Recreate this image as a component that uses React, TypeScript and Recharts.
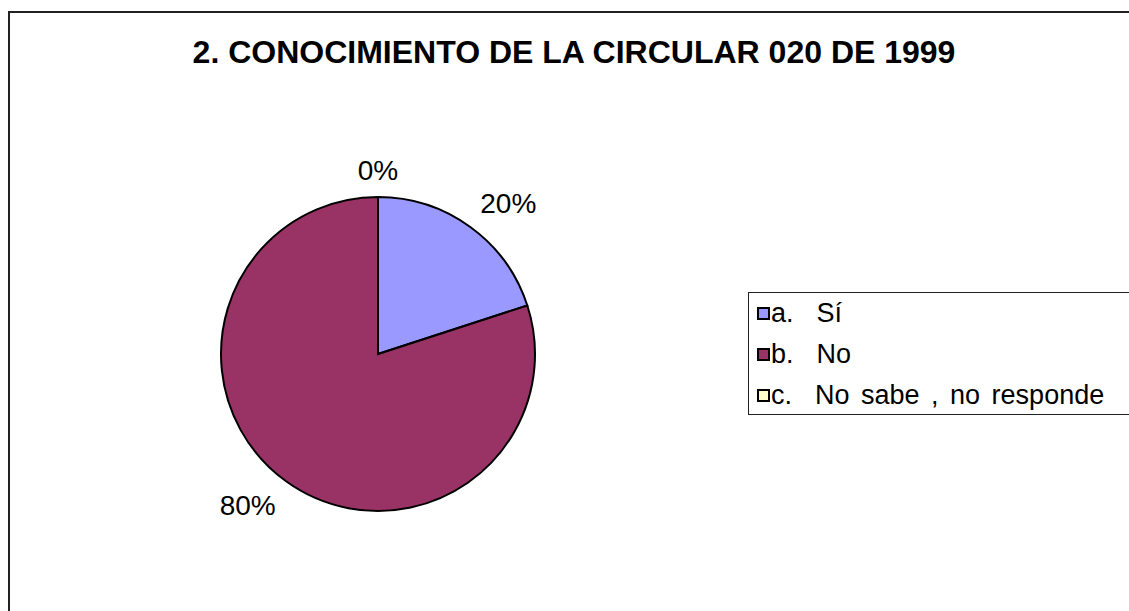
import React from 'react';
import { PieChart, Pie, Cell, Legend } from 'recharts';

const categories = ['a.  Sí', 'b.  No', 'c.  No sabe , no responde'];
const percents = [20, 80, 0];
const colors = ['#9999FF', '#993366', '#FFFFCC'];

const data = categories.map((name, i) => ({ name, value: percents[i], color: colors[i] }));

const FONT = '"Liberation Sans", Arial, sans-serif';
const RADIAN = Math.PI / 180;

// label placed at the outside end of each slice, box corner touching the anchor
const renderLabel = (props: any) => {
  const { cx, cy, midAngle, outerRadius, value } = props;
  const r = outerRadius + 17;
  const cos = Math.cos(-midAngle * RADIAN);
  const sin = Math.sin(-midAngle * RADIAN);
  const ax = cx + r * cos;
  const ay = cy + r * sin;
  const anchor = cos > 0.1 ? 'start' : cos < -0.1 ? 'end' : 'middle';
  const y = sin < -0.1 ? ay : sin > 0.1 ? ay + 20 : ay + 10;
  return (
    <text x={ax} y={y} textAnchor={anchor} fill="#000" fontSize={28} fontFamily={FONT}>
      {`${value}%`}
    </text>
  );
};

const LegendBox = () => (
  <div
    style={{
      border: '1px solid #222',
      background: '#fff',
      width: 420,
      height: 123,
      boxSizing: 'border-box',
      fontFamily: FONT,
      fontSize: 27,
      wordSpacing: 4,
      color: '#000',
    }}
  >
    {data.map((d) => (
      <div key={d.name} style={{ height: 41, display: 'flex', alignItems: 'center', whiteSpace: 'pre' }}>
        <span
          style={{
            display: 'inline-block',
            width: 9,
            height: 9,
            marginLeft: 8,
            marginRight: 1,
            background: d.color,
            border: '2px solid #000',
          }}
        />
        <span>{d.name}</span>
      </div>
    ))}
  </div>
);

export default function App() {
  return (
    <div style={{ position: 'absolute', left: 0, top: 0, width: 1129, height: 611, overflow: 'hidden', background: '#fff' }}>
      <div
        style={{
          position: 'absolute',
          left: 8,
          top: 11,
          width: 1200,
          height: 700,
          border: '2px solid #222',
          boxSizing: 'border-box',
        }}
      />
      <div
        style={{
          position: 'absolute',
          left: 0,
          width: 1148,
          top: 36,
          lineHeight: '32px',
          textAlign: 'center',
          fontFamily: FONT,
          fontWeight: 'bold',
          fontSize: 32,
          color: '#000',
        }}
      >
        2. CONOCIMIENTO DE LA CIRCULAR 020 DE 1999
      </div>
      <div style={{ position: 'absolute', left: 0, top: 0 }}>
        <PieChart width={1129} height={611} margin={{ top: 0, right: 0, bottom: 0, left: 0 }}>
          <Pie
            data={data}
            dataKey="value"
            nameKey="name"
            cx={378}
            cy={354}
            outerRadius={157}
            startAngle={90}
            endAngle={-270}
            stroke="#000"
            strokeWidth={2}
            label={renderLabel}
            labelLine={false}
            isAnimationActive={false}
          >
            {data.map((d) => (
              <Cell key={d.name} fill={d.color} />
            ))}
          </Pie>
          <Legend
            content={<LegendBox />}
            wrapperStyle={{ position: 'absolute', left: 748, top: 292, width: 420 }}
          />
        </PieChart>
      </div>
    </div>
  );
}
